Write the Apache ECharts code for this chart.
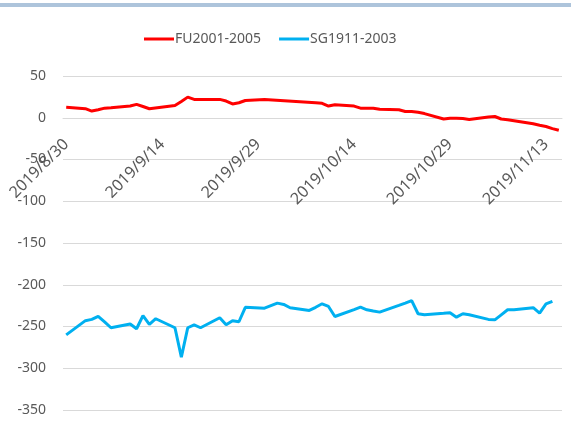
<!DOCTYPE html>
<html>
<head>
<meta charset="utf-8">
<script src="https://cdn.jsdelivr.net/npm/echarts@6/dist/echarts.min.js"></script>
<style>
  html, body { margin: 0; padding: 0; background: #fff; }
  #chart { width: 571px; height: 423px; }
</style>
</head>
<body>
<div id="chart"></div>
<script>
// 日期轴：2019/8/30 ~ 2019/11/15 的每一个日历日
const startDate = new Date(2019, 7, 30);
const endDate = new Date(2019, 10, 15);

// FU2001-2005 价差
const fuDates = ['8/30', '9/2', '9/3', '9/4', '9/5', '9/6', '9/9', '9/10', '9/11', '9/12',
    '9/16', '9/17', '9/18', '9/19', '9/20', '9/23', '9/24', '9/25', '9/26', '9/27',
    '9/30', '10/8', '10/9', '10/10', '10/11', '10/14', '10/15', '10/16', '10/17', '10/18',
    '10/21', '10/22', '10/23', '10/24', '10/25', '10/28', '10/29', '10/30', '10/31', '11/1',
    '11/4', '11/5', '11/6', '11/7', '11/8', '11/11', '11/12', '11/13', '11/14', '11/15'];
const fuValues = [12.7, 10.9, 8, 9.5, 11.5, 12, 14, 16, 13.5, 10.8,
    14.7, 19.5, 24.7, 22, 22, 22, 20, 16.5, 18, 20.7,
    22, 18, 17.3, 14, 15.5, 14, 11.5, 11.5, 11.5, 10.2,
    9.5, 7.5, 7.5, 6.5, 5, -1.5, -0.5, -0.5, -1, -2,
    1, 1.5, -1.5, -2.5, -3.5, -7.2, -9, -10.5, -13, -15];

// SG1911-2003 价差
const sgDates = ['8/30', '9/2', '9/3', '9/4', '9/5', '9/6', '9/9', '9/10', '9/11', '9/12',
    '9/13', '9/16', '9/17', '9/18', '9/19', '9/20', '9/23', '9/24', '9/25', '9/26',
    '9/27', '9/30', '10/1', '10/2', '10/3', '10/4', '10/7', '10/8', '10/9', '10/10',
    '10/11', '10/14', '10/15', '10/16', '10/17', '10/18', '10/21', '10/22', '10/23', '10/24',
    '10/25', '10/28', '10/29', '10/30', '10/31', '11/1', '11/4', '11/5', '11/6', '11/7',
    '11/8', '11/11', '11/12', '11/13', '11/14'];
const sgValues = [-260, -243, -241.5, -238, -244.5, -251.5, -247, -252.7, -237, -247.5,
    -240.7, -251.5, -286.7, -251.5, -248, -251.5, -239.5, -248, -243, -244.3,
    -227, -228, -225, -222, -223.6, -227.5, -230.8, -227, -222.8, -226,
    -238, -229.8, -226.8, -230, -231.5, -232.8, -224.8, -222, -219, -234.7,
    -236, -234.2, -233.5, -238.8, -234.7, -236, -241.5, -242, -236, -230,
    -230, -227.5, -234, -223, -220];

const legendNames = ['FU2001-2005', 'SG1911-2003'];

// 生成类目
const categories = [];
const keys = [];
for (let d = new Date(startDate); d <= endDate; d.setDate(d.getDate() + 1)) {
    const m = d.getMonth() + 1;
    const day = d.getDate();
    categories.push('2019/' + m + '/' + day);
    keys.push(m + '/' + day);
}

function align(dates, values) {
    const map = {};
    dates.forEach((k, i) => { map[k] = values[i]; });
    return keys.map(k => (k in map ? map[k] : null));
}

const textColor = '#595959';
const fontFamily = 'Noto Sans';

// 网格
const gridTop = 76;
const gridBottom = 13;
const yMin = -350;
const yMax = 50;
const plotHeight = 423 - gridTop - gridBottom;
// x 轴放在 0 刻度线上
const zeroOffset = -plotHeight * (0 - yMin) / (yMax - yMin);

var chartDom = document.getElementById('chart');
var myChart = echarts.init(chartDom);

var option = {
    backgroundColor: '#ffffff',
    animation: false,
    graphic: [{
        type: 'rect',
        left: 0,
        top: 3,
        shape: { width: 571, height: 4 },
        style: { fill: '#adc4db' }
    }],
    legend: {
        data: legendNames,
        top: 27,
        left: 139,
        icon: 'rect',
        itemWidth: 30,
        itemHeight: 3,
        itemGap: 18,
        textStyle: {
            color: textColor,
            fontSize: 14,
            fontFamily: fontFamily,
            padding: [0, 0, 0, -4]
        }
    },
    grid: {
        left: 63,
        right: 9,
        top: gridTop,
        bottom: gridBottom,
        containLabel: false,
        outerBoundsMode: 'none'
    },
    xAxis: {
        type: 'category',
        data: categories,
        boundaryGap: true,
        position: 'bottom',
        offset: zeroOffset,
        axisTick: { show: false },
        axisLine: {
            onZero: false,
            lineStyle: { color: '#d9d9d9', width: 1 }
        },
        axisLabel: {
            interval: 14,
            rotate: 45,
            margin: 24,
            color: textColor,
            fontSize: 16,
            fontFamily: fontFamily
        },
        splitLine: { show: false }
    },
    yAxis: {
        type: 'value',
        min: yMin,
        max: yMax,
        interval: 50,
        axisLine: { show: false },
        axisTick: { show: false },
        axisLabel: {
            margin: 17,
            color: textColor,
            fontSize: 14,
            fontFamily: fontFamily
        },
        splitLine: {
            lineStyle: { color: '#d9d9d9', width: 1 }
        }
    },
    series: [{
        name: legendNames[0],
        type: 'line',
        data: align(fuDates, fuValues),
        connectNulls: true,
        showSymbol: false,
        symbol: 'none',
        lineStyle: { color: '#ff0000', width: 3 },
        itemStyle: { color: '#ff0000' }
    }, {
        name: legendNames[1],
        type: 'line',
        data: align(sgDates, sgValues),
        connectNulls: true,
        showSymbol: false,
        symbol: 'none',
        lineStyle: { color: '#00b0f0', width: 3 },
        itemStyle: { color: '#00b0f0' }
    }]
};

myChart.setOption(option);
</script>
</body>
</html>
